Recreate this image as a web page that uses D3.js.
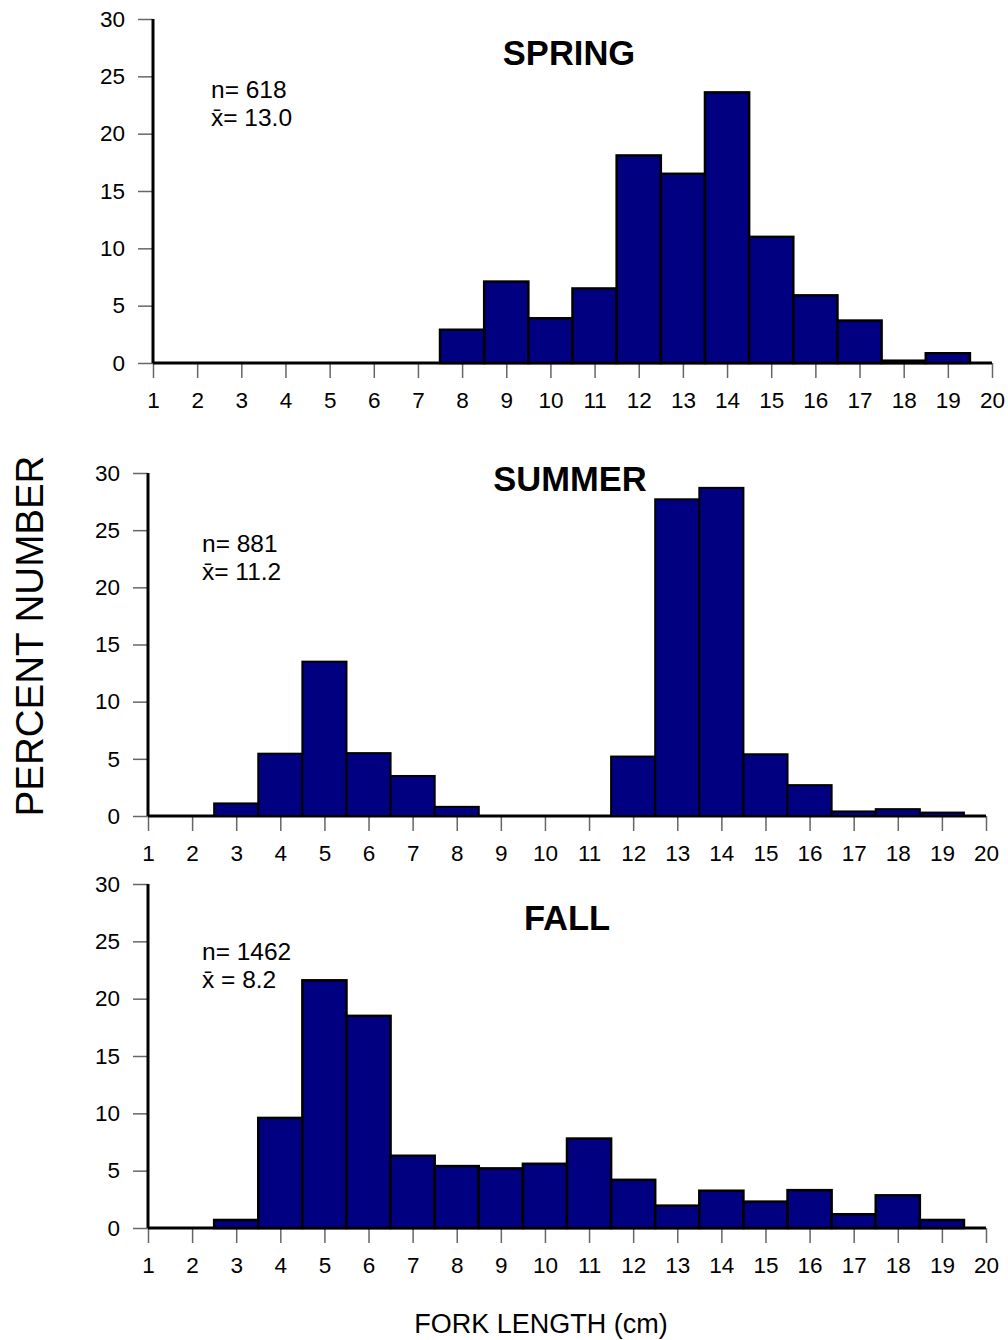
<!DOCTYPE html>
<html lang="en">
<head>
    <meta charset="UTF-8">
    <title>Fork length by season</title>
    <script src="https://d3js.org/d3.v7.min.js"></script>
    <style>
        body { margin: 0; background: #fff; }
        text { font-family: "Liberation Sans", Arial, sans-serif; fill: #000; }
    </style>
</head>
<body>

<script>

    // length classes (cm) and percent of fish in each class
    var bins = [1,2,3,4,5,6,7,8,9,10,11,12,13,14,15,16,17,18,19];
    var xTicks = d3.range(1, 21);
    var yTicks = [0, 5, 10, 15, 20, 25, 30];

    var spring = [0,0,0,0,0,0,0,2.9,7.1,3.9,6.5,18.1,16.5,23.6,11.0,5.9,3.7,0.2,0.85];
    var summer = [0,0,1.1,5.45,13.5,5.5,3.5,0.8,0,0,0,5.2,27.7,28.7,5.4,2.7,0.4,0.6,0.3];
    var fall   = [0,0,0.7,9.6,21.6,18.5,6.3,5.4,5.2,5.6,7.8,4.2,1.95,3.25,2.3,3.3,1.2,2.85,0.7];

    var titles = ["SPRING", "SUMMER", "FALL"];
    var nText = ["n= 618", "n= 881", "n= 1462"];
    var meanText = ["x\u0304= 13.0", "x\u0304= 11.2", "x\u0304 = 8.2"];

    var seriesList = [spring, summer, fall];

    // where each panel sits on the page
    var panels = [
        {left: 153, right: 992, top: 19, bottom: 363, titleX: 569, titleY: 65, noteX: 211, noteY: 98, stroke: 2.5},
        {left: 148, right: 986, top: 473, bottom: 816, titleX: 570, titleY: 491, noteX: 202, noteY: 552, stroke: 2},
        {left: 148, right: 986, top: 884, bottom: 1228, titleX: 567, titleY: 930, noteX: 202, noteY: 960, stroke: 2.5}
    ];

    var svg = d3.select("body")
        .append("svg")
        .attr("width", 1008)
        .attr("height", 1340);

    panels.forEach(function (p, k) {
        var values = seriesList[k];
        var data = bins.map(function (b, i) { return {bin: b, value: values[i]}; });

        var xScale = d3.scaleLinear().domain([1, 20]).range([p.left, p.right]);
        var yScale = d3.scaleLinear().domain([0, 30]).range([p.bottom, p.top]);

        var g = svg.append("g");

        // tick marks + labels
        var xAxis = g.append("g")
            .attr("transform", "translate(0," + p.bottom + ")")
            .call(d3.axisBottom(xScale).tickValues(xTicks).tickSize(15).tickPadding(14).tickFormat(d3.format("d")));
        var yAxis = g.append("g")
            .attr("transform", "translate(" + p.left + ",0)")
            .call(d3.axisLeft(yScale).tickValues(yTicks).tickSize(15).tickPadding(13));

        [xAxis, yAxis].forEach(function (ax) {
            ax.attr("font-size", null).attr("font-family", null);
            ax.select(".domain").remove();
            ax.selectAll(".tick line").attr("stroke", "#666").attr("stroke-width", 1.5);
            ax.selectAll(".tick text").style("font-size", "22.5px").attr("fill", "#000");
        });

        // heavy axis lines
        g.append("line")
            .attr("x1", xScale(1)).attr("x2", xScale(20))
            .attr("y1", yScale(0)).attr("y2", yScale(0))
            .attr("stroke", "#000").attr("stroke-width", 3);
        g.append("line")
            .attr("x1", xScale(1)).attr("x2", xScale(1))
            .attr("y1", yScale(30)).attr("y2", yScale(0))
            .attr("stroke", "#000").attr("stroke-width", 3);

        g.selectAll("rect.bar")
            .data(data.filter(function (d) { return d.value > 0; }))
            .enter().append("rect")
            .attr("class", "bar")
            .attr("x", function (d) { return xScale(d.bin - 0.5); })
            .attr("width", function (d) { return xScale(d.bin + 0.5) - xScale(d.bin - 0.5); })
            .attr("y", function (d) { return yScale(d.value); })
            .attr("height", function (d) { return yScale(0) - yScale(d.value); })
            .attr("fill", "#000080")
            .attr("stroke", "#000")
            .attr("stroke-width", p.stroke);

        g.append("text")
            .attr("x", p.titleX).attr("y", p.titleY)
            .attr("text-anchor", "middle")
            .style("font-size", "34.5px").attr("font-weight", "bold")
            .text(titles[k]);

        // n and mean, two lines in one text block
        var note = g.append("text")
            .attr("x", p.noteX).attr("y", p.noteY)
            .style("font-size", "24.5px");
        note.append("tspan").attr("x", p.noteX).text(nText[k]);
        note.append("tspan").attr("x", p.noteX).attr("dy", 27.5).text(meanText[k]);
    });

    svg.append("text")
        .attr("transform", "translate(43,636) rotate(-90)")
        .attr("text-anchor", "middle")
        .style("font-size", "38.5px")
        .text("PERCENT NUMBER");

    svg.append("text")
        .attr("x", 541).attr("y", 1333)
        .attr("text-anchor", "middle")
        .style("font-size", "27px")
        .text("FORK LENGTH (cm)");

</script>

</body>
</html>
